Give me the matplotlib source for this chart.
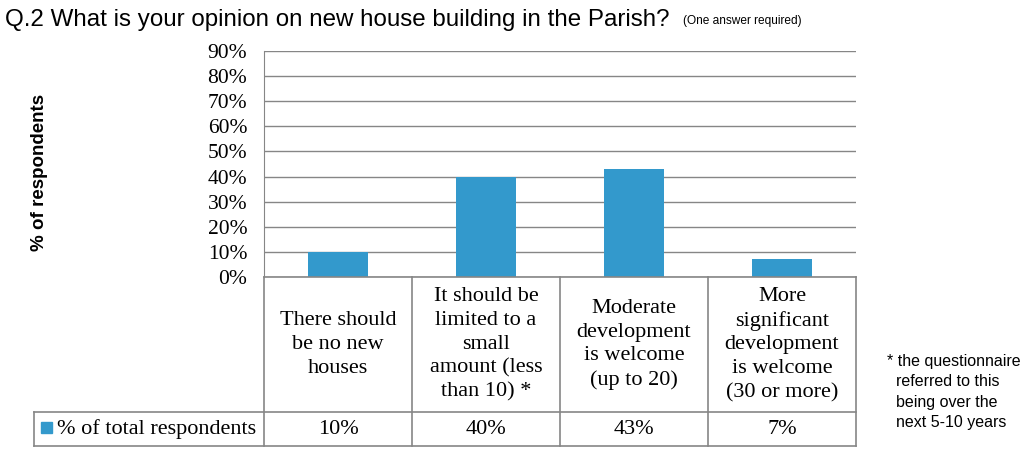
import matplotlib
matplotlib.use("Agg")
import matplotlib.pyplot as plt
import matplotlib.transforms as mtransforms
from matplotlib.patches import Rectangle

# Data
categories = [
    "There should\nbe no new\nhouses",
    "It should be\nlimited to a\nsmall\namount (less\nthan 10) *",
    "Moderate\ndevelopment\nis welcome\n(up to 20)",
    "More\nsignificant\ndevelopment\nis welcome\n(30 or more)",
]
values = [10, 40, 43, 7]
value_labels = ["10%", "40%", "43%", "7%"]
series_name = "% of total respondents"
yticks = list(range(0, 100, 10))

BAR = "#3399cc"
LINE = "#868686"
W, H = 1036, 457
SERIF = "Liberation Serif"
SANS = "Liberation Sans"

fig = plt.figure(figsize=(W / 100, H / 100), dpi=100)

def fy(py):
    # pixel row (from top) -> figure fraction
    return 1 - py / H

def fx(px):
    return px / W

ax = fig.add_axes([fx(264), fy(277), fx(856) - fx(264), fy(51) - fy(277)])
x = list(range(len(values)))
ax.bar(x, values, width=0.4, color=BAR, zorder=3)
ax.set_xlim(-0.5, len(values) - 0.5)
ax.set_ylim(0, 90)
ax.set_yticks(yticks)
ax.set_yticklabels([f"{t}%" for t in yticks], fontfamily=SERIF, fontsize=15.5)
ax.tick_params(axis="y", length=0, pad=12)
ax.set_xticks([])
ax.yaxis.grid(True, color=LINE, linewidth=1)
ax.set_axisbelow(True)
for s in ["top", "right", "bottom"]:
    ax.spines[s].set_visible(False)
ax.spines["left"].set_color(LINE)

# data table below the axes
blend = mtransforms.blended_transform_factory(ax.transData, fig.transFigure)
lw = 1.2
for b in [i - 0.5 for i in range(len(values) + 1)]:
    ax.plot([b, b], [fy(277), fy(446)], color=LINE, lw=lw, transform=blend, clip_on=False)
for py in [412, 446]:
    fig.add_artist(plt.Line2D([fx(34), fx(856)], [fy(py), fy(py)], color=LINE, lw=lw))
fig.add_artist(plt.Line2D([fx(34), fx(34)], [fy(412), fy(446)], color=LINE, lw=lw))
fig.add_artist(plt.Line2D([fx(264), fx(856)], [fy(277), fy(277)], color=LINE, lw=lw))

for i, (cat, val) in enumerate(zip(categories, value_labels)):
    ax.text(i, fy(344.5), cat, transform=blend, ha="center", va="center",
            fontfamily=SERIF, fontsize=16, linespacing=1.33)
    ax.text(i, fy(429), val, transform=blend, ha="center", va="center",
            fontfamily=SERIF, fontsize=16)

# legend key in table
fig.add_artist(Rectangle((fx(41), fy(433)), fx(52) - fx(41), fy(422) - fy(433),
                         color=BAR, transform=fig.transFigure))
fig.text(fx(57), fy(429), series_name, ha="left", va="center",
         fontfamily=SERIF, fontsize=16)

# titles and notes
fig.text(fx(5), fy(20), "Q.2 What is your opinion on new house building in the Parish?",
         ha="left", va="center", fontfamily=SANS, fontsize=17.4)
fig.text(fx(683), fy(21), "(One answer required)", ha="left", va="center",
         fontfamily=SANS, fontsize=8.6)
fig.text(fx(40), fy(172), "% of respondents", rotation=90, ha="center", va="center",
         fontfamily=SANS, fontsize=13.5, fontweight="bold")
fig.text(fx(887), fy(392), "* the questionnaire\n  referred to this\n  being over the\n  next 5-10 years",
         ha="left", va="center", fontfamily=SANS, fontsize=11.5, linespacing=1.42)

fig.savefig("out.png", dpi=100)
